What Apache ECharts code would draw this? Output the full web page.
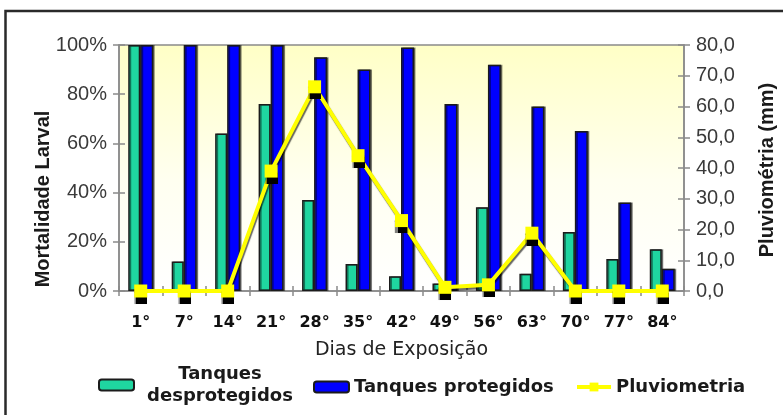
<!DOCTYPE html>
<html>
<head>
<meta charset="utf-8">
<script src="https://cdn.jsdelivr.net/npm/echarts@6/dist/echarts.min.js"></script>
<style>
  html, body { margin: 0; padding: 0; background: #fff; }
  #chart { width: 783px; height: 415px; }
</style>
</head>
<body>
<div id="chart"></div>
<script>
// Days of exposure
var dias = ['1°', '7°', '14°', '21°', '28°', '35°', '42°', '49°', '56°', '63°', '70°', '77°', '84°'];
// Larval mortality (%)
var tanquesDesprotegidos = [100, 12, 64, 76, 37, 11, 6, 3, 34, 7, 24, 13, 17];
var tanquesProtegidos = [100, 100, 100, 100, 95, 90, 99, 76, 92, 75, 65, 36, 9];
// Rainfall (mm)
var pluviometria = [0, 0, 0, 39, 66.4, 44, 22.9, 1.2, 2, 18.8, 0, 0, 0];
// Axis tick values
var ticksMortalidade = [0, 20, 40, 60, 80, 100];
var ticksPluviometria = [0, 10, 20, 30, 40, 50, 60, 70, 80];

var sans = '"Liberation Sans", Arial, sans-serif';
var wide = '"DejaVu Sans", Verdana, sans-serif';

var chart = echarts.init(document.getElementById('chart'), null, { renderer: 'canvas' });

var legendText = { fontFamily: wide, fontWeight: 'bold', fontSize: 18, color: '#1a1a1a', lineHeight: 22 };

chart.setOption({
  animation: false,
  backgroundColor: '#fff',
  grid: {
    left: 119, right: 99, top: 45, bottom: 124,
    show: true,
    borderColor: '#8a8a8a',
    borderWidth: 1.5,
    backgroundColor: {
      type: 'linear', x: 0, y: 0, x2: 0, y2: 1,
      colorStops: [
        { offset: 0, color: '#ffffc6' },
        { offset: 0.55, color: '#fffff0' },
        { offset: 1, color: '#ffffff' }
      ]
    }
  },
  graphic: [
    {
      type: 'rect',
      shape: { x: 5.5, y: 11, width: 800, height: 430 },
      style: { fill: 'none', stroke: '#2a2a2a', lineWidth: 2.5 },
      silent: true
    },
    {
      type: 'text',
      x: 43, y: 199, rotation: Math.PI / 2,
      style: {
        text: 'Mortalidade Larval',
        font: 'bold 20px ' + sans,
        fill: '#1a1a1a',
        align: 'center', verticalAlign: 'middle'
      }
    },
    {
      type: 'text',
      x: 767, y: 170, rotation: Math.PI / 2,
      style: {
        text: 'Pluviométria (mm)',
        font: 'bold 20px ' + sans,
        fill: '#1a1a1a',
        align: 'center', verticalAlign: 'middle'
      }
    }
  ],
  legend: [
    {
      left: 93, top: 360,
      itemWidth: 35, itemHeight: 11,
      data: ['Tanques desprotegidos'],
      formatter: function () { return '{a|Tanques}\n{a|desprotegidos}'; },
      textStyle: {
        rich: { a: Object.assign({ width: 162, align: 'center' }, legendText) }
      }
    },
    {
      left: 308, top: 371,
      itemWidth: 35, itemHeight: 11,
      data: ['Tanques protegidos'],
      textStyle: legendText
    },
    {
      left: 570, top: 371,
      itemWidth: 34, itemHeight: 11,
      data: ['Pluviometria'],
      lineStyle: { width: 4 },
      textStyle: legendText
    }
  ],
  xAxis: [
    {
      type: 'category',
      data: dias,
      position: 'bottom',
      boundaryGap: true,
      axisLine: { show: true, lineStyle: { color: '#8a8a8a', width: 1.5 } },
      axisTick: { show: true, length: 5, alignWithLabel: false, lineStyle: { color: '#8a8a8a', width: 1.5 } },
      axisLabel: { margin: 24, fontFamily: wide, fontWeight: 'bold', fontSize: 16, color: '#111' },
      name: 'Dias de Exposição',
      nameLocation: 'middle',
      nameGap: 50,
      nameTextStyle: { fontFamily: wide, fontSize: 19, color: '#222' }
    },
    {
      type: 'category',
      data: dias,
      position: 'bottom',
      gridIndex: 0,
      axisLine: { show: false },
      axisTick: { show: true, inside: true, length: 5, lineStyle: { color: '#8a8a8a', width: 1.5 } },
      axisLabel: { show: false }
    }
  ],
  yAxis: [
    {
      type: 'value',
      position: 'left',
      min: ticksMortalidade[0],
      max: ticksMortalidade[ticksMortalidade.length - 1],
      interval: ticksMortalidade[1] - ticksMortalidade[0],
      splitLine: { show: false },
      axisLine: { show: true, lineStyle: { color: '#8a8a8a', width: 1.5 } },
      axisTick: { show: true, length: 6, lineStyle: { color: '#8a8a8a', width: 1.5 } },
      axisLabel: { margin: 12, formatter: '{value}%', fontFamily: sans, fontSize: 20, color: '#3a3a3a' }
    },
    {
      type: 'value',
      position: 'right',
      min: ticksPluviometria[0],
      max: ticksPluviometria[ticksPluviometria.length - 1],
      interval: ticksPluviometria[1] - ticksPluviometria[0],
      splitLine: { show: false },
      axisLine: { show: true, lineStyle: { color: '#8a8a8a', width: 1.5 } },
      axisTick: { show: true, length: 6, lineStyle: { color: '#8a8a8a', width: 1.5 } },
      axisLabel: {
        margin: 12,
        formatter: function (v) { return v.toFixed(1).replace('.', ','); },
        fontFamily: sans, fontSize: 20, color: '#3a3a3a'
      }
    },
    {
      type: 'value',
      position: 'left',
      min: ticksMortalidade[0],
      max: ticksMortalidade[ticksMortalidade.length - 1],
      interval: ticksMortalidade[1] - ticksMortalidade[0],
      splitLine: { show: false },
      axisLine: { show: false },
      axisTick: { show: true, inside: true, length: 6, lineStyle: { color: '#8a8a8a', width: 1.5 } },
      axisLabel: { show: false }
    },
    {
      type: 'value',
      position: 'right',
      min: ticksPluviometria[0],
      max: ticksPluviometria[ticksPluviometria.length - 1],
      interval: ticksPluviometria[1] - ticksPluviometria[0],
      splitLine: { show: false },
      axisLine: { show: false },
      axisTick: { show: true, inside: true, length: 6, lineStyle: { color: '#8a8a8a', width: 1.5 } },
      axisLabel: { show: false }
    }
  ],
  series: [
    {
      name: 'Tanques desprotegidos',
      type: 'bar',
      xAxisIndex: 0, yAxisIndex: 0,
      data: tanquesDesprotegidos,
      barWidth: 12,
      barGap: '0%',
      itemStyle: {
        color: '#1fd6a0',
        borderColor: '#1b1b1b',
        borderWidth: 1.5,
        shadowColor: 'rgba(0,0,0,0.45)',
        shadowOffsetX: 1.5,
        shadowOffsetY: 0
      }
    },
    {
      name: 'Tanques protegidos',
      type: 'bar',
      xAxisIndex: 0, yAxisIndex: 0,
      data: tanquesProtegidos,
      barWidth: 13,
      barGap: '0%',
      itemStyle: {
        color: '#0000ff',
        borderColor: '#1b1b1b',
        borderWidth: 1.5,
        shadowColor: 'rgba(0,0,0,0.45)',
        shadowOffsetX: 1.5,
        shadowOffsetY: 0
      }
    },
    {
      name: 'Pluviometria',
      type: 'line',
      xAxisIndex: 0, yAxisIndex: 1,
      data: pluviometria,
      symbol: 'rect',
      symbolSize: 13,
      z: 5,
      lineStyle: {
        color: '#ffff00',
        width: 4,
        shadowColor: 'rgba(0,0,0,0.6)',
        shadowOffsetX: 1,
        shadowOffsetY: 2,
        shadowBlur: 1
      },
      itemStyle: {
        color: '#ffff00',
        borderWidth: 0,
        shadowColor: '#000',
        shadowOffsetY: 6,
        shadowBlur: 1
      }
    }
  ]
});
</script>
</body>
</html>
